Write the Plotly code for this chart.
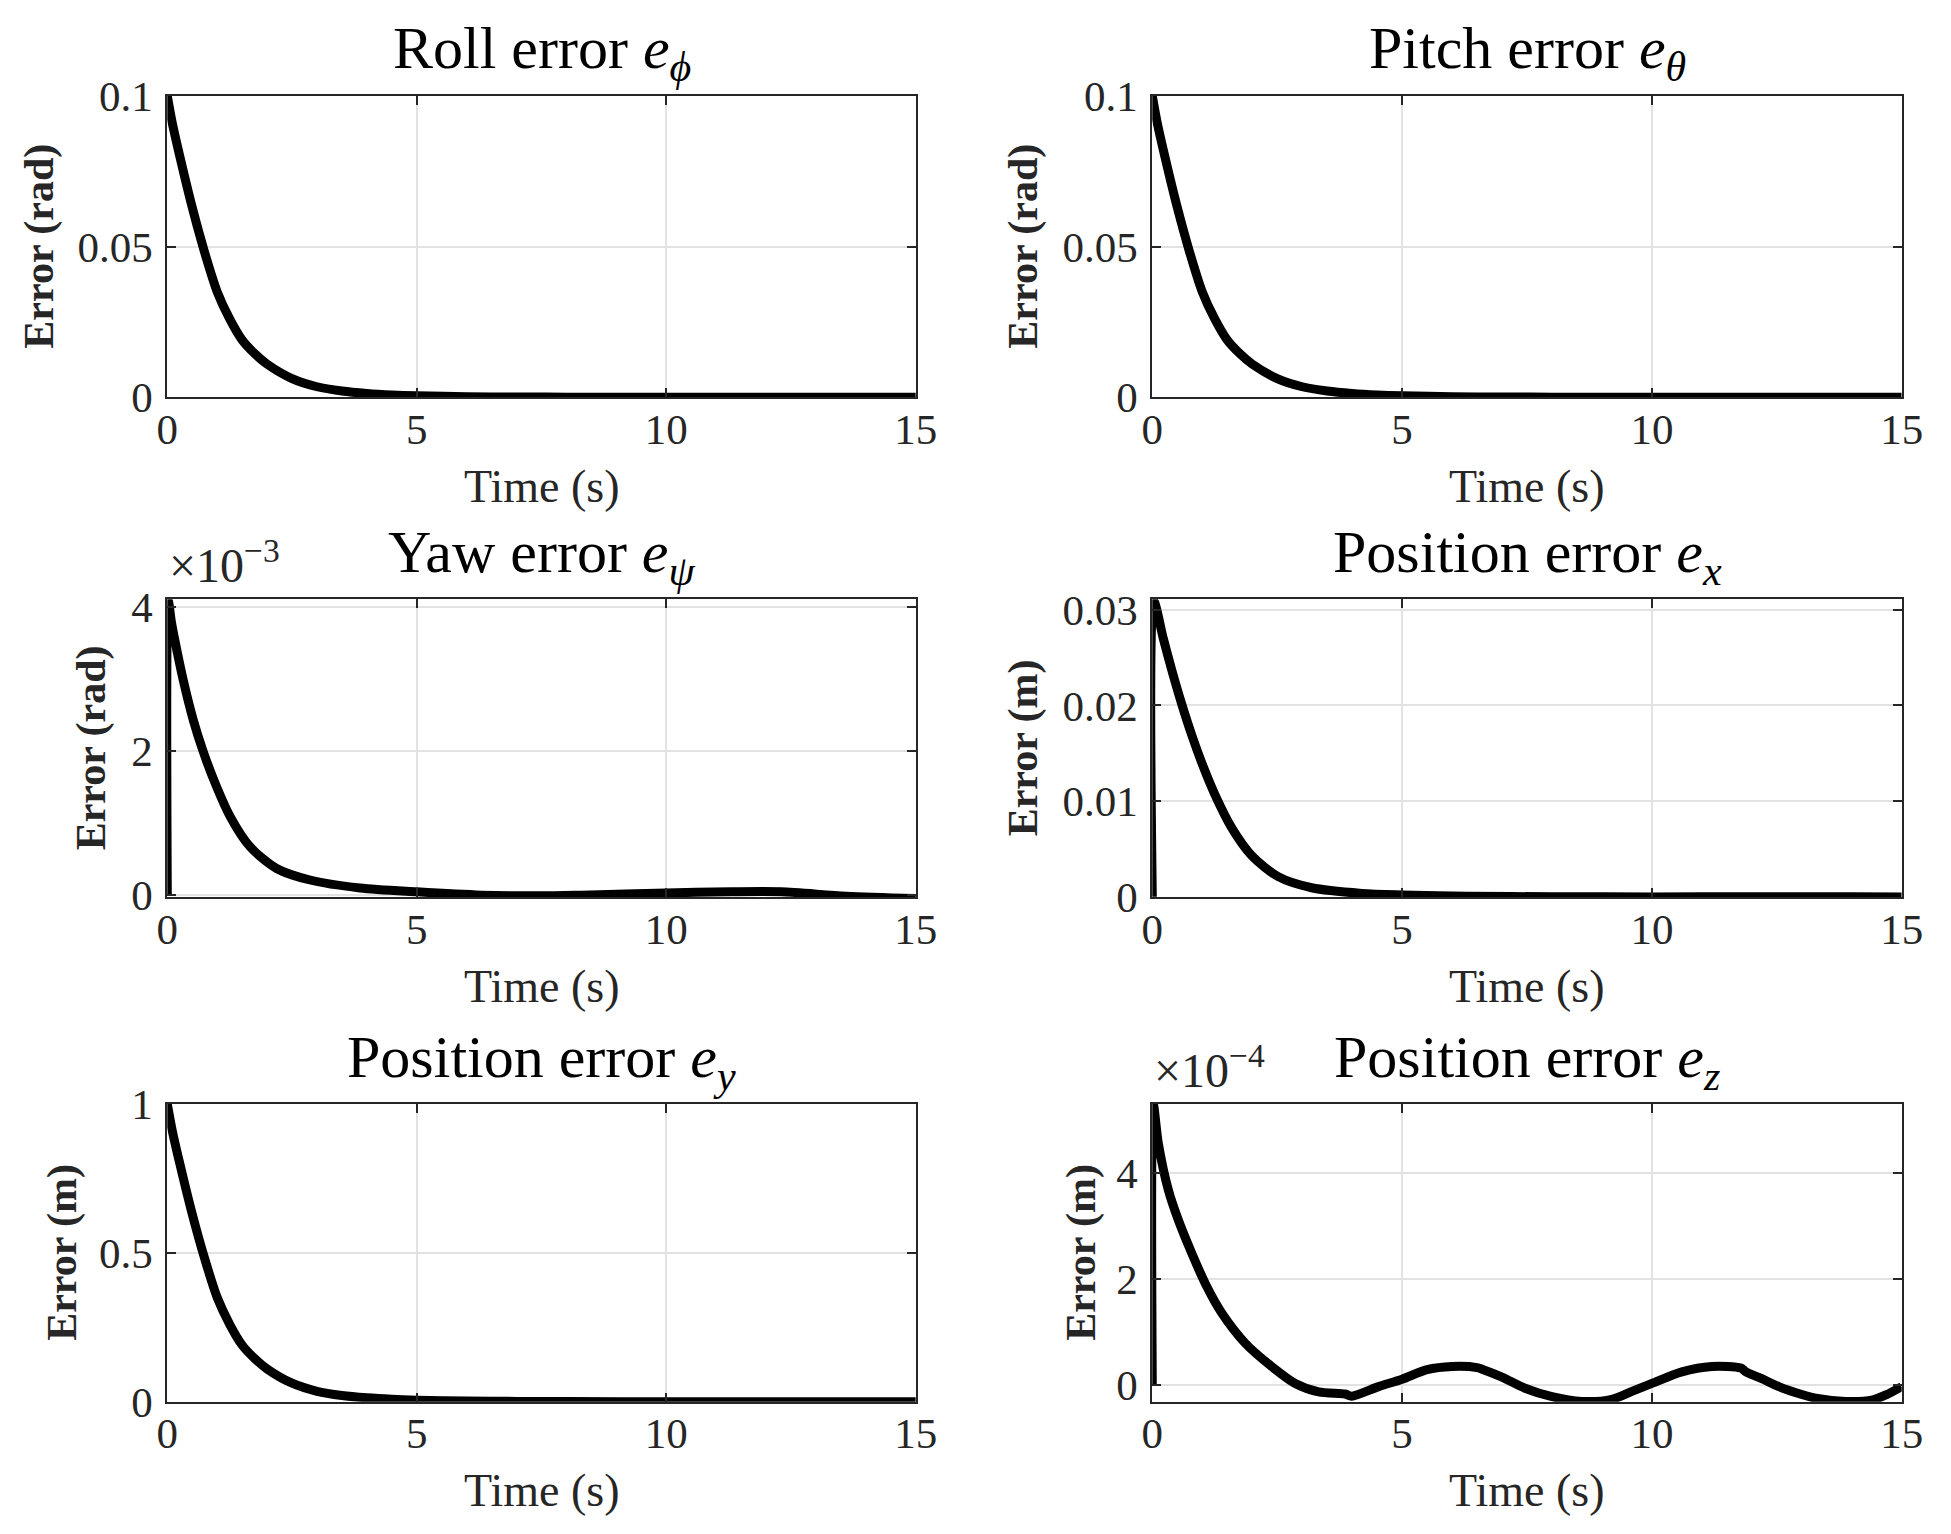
import plotly.graph_objects as go

W, H = 1951, 1534

# ---------------- data ----------------
t_roll = [0, 0.1, 0.25, 0.5, 0.75, 1.0, 1.25, 1.5, 1.75, 2.0, 2.5, 3.0, 3.5, 4.0, 4.5, 5.0, 6.0, 7.0, 8.0, 10.0, 12.0, 15.0]
e_roll = [0.1, 0.091, 0.080, 0.063, 0.048, 0.035, 0.026, 0.019, 0.0145, 0.011, 0.0062, 0.0035, 0.0021, 0.0013,
          0.0008, 0.0005, 0.0002, 0.0001, 0.00005, 0.0, 0.0, 0.0]

t_pitch = [0, 0.1, 0.25, 0.5, 0.75, 1.0, 1.25, 1.5, 1.75, 2.0, 2.5, 3.0, 3.5, 4.0, 4.5, 5.0, 6.0, 7.0, 8.0, 10.0, 12.0, 15.0]
e_pitch = [0.1, 0.091, 0.080, 0.063, 0.048, 0.035, 0.026, 0.019, 0.0145, 0.011, 0.0062, 0.0035, 0.0021, 0.0013,
           0.0008, 0.0005, 0.0002, 0.0001, 0.00005, 0.0, 0.0, 0.0]

t_yaw = [0, 0.02, 0.08, 0.15, 0.32, 0.52, 0.72, 0.96, 1.26, 1.66, 2.19, 2.86, 3.86, 5.0, 6.3, 7.5, 8.3, 10.0,
         11.3, 12.3, 13.6, 15.0]
e_yaw = [0.0, 4.08e-3, 3.80e-3, 3.54e-3, 2.98e-3, 2.43e-3, 1.99e-3, 1.55e-3, 1.09e-3, 0.67e-3, 0.37e-3, 0.21e-3,
         0.10e-3, 0.046e-3, 0.0, -0.01e-3, 0.0, 0.03e-3, 0.046e-3, 0.046e-3, -0.014e-3, -0.046e-3]

t_px = [0, 0.03, 0.22, 0.39, 0.58, 0.79, 1.02, 1.26, 1.59, 1.99, 2.52, 3.19, 4.19, 5.0, 6.3, 8.0, 10.0, 12.0,
        14.0, 15.0]
e_px = [0.0, 0.0309, 0.0270, 0.0237, 0.0203, 0.0169, 0.0136, 0.0106, 0.0072, 0.0043, 0.0021, 0.00094, 0.00035,
        0.00018, 0.00005, 0.0, -0.00002, 0.0, 0.0, -0.00003]

t_py = [0, 0.1, 0.25, 0.5, 0.75, 1.0, 1.25, 1.5, 1.75, 2.0, 2.5, 3.0, 3.5, 4.0, 4.5, 5.0, 6.0, 7.0, 8.0, 10.0, 12.0, 15.0]
e_py = [1.0, 0.91, 0.80, 0.63, 0.48, 0.35, 0.26, 0.19, 0.145, 0.11, 0.062, 0.035, 0.021, 0.013, 0.008, 0.005,
        0.002, 0.001, 0.0005, 0.0, 0.0, 0.0]

t_pz = [0, 0.02, 0.12, 0.32, 0.52, 0.79, 1.09, 1.39, 1.86, 2.39, 2.86, 3.33, 3.86, 3.99, 4.53, 5.0, 5.5, 6.0,
        6.5, 6.6, 7.0, 7.46, 8.0, 8.6, 9.2, 9.6, 10.0, 10.6, 11.2, 11.78, 11.88, 12.2, 12.54, 13.0, 13.28,
        13.88, 14.42, 14.7, 15.0]
e_pz = [0.0, 5.30e-4, 4.57e-4, 3.69e-4, 3.12e-4, 2.49e-4, 1.86e-4, 1.36e-4, 0.79e-4, 0.35e-4, 0.03e-4, -0.13e-4,
        -0.17e-4, -0.21e-4, -0.03e-4, 0.11e-4, 0.29e-4, 0.35e-4, 0.33e-4, 0.30e-4, 0.15e-4, -0.06e-4, -0.22e-4,
        -0.31e-4, -0.27e-4, -0.12e-4, 0.03e-4, 0.25e-4, 0.35e-4, 0.32e-4, 0.25e-4, 0.12e-4, -0.03e-4, -0.18e-4,
        -0.25e-4, -0.31e-4, -0.28e-4, -0.18e-4, -0.03e-4]

x_ticks = [0, 5, 10, 15]
x_ticktext = ["0", "5", "10", "15"]

titles = ["Roll error <i>e</i><sub><i>ϕ</i></sub>",
          "Pitch error <i>e</i><sub><i>θ</i></sub>",
          "Yaw error <i>e</i><sub><i>ψ</i></sub>",
          "Position error <i>e</i><sub><i>x</i></sub>",
          "Position error <i>e</i><sub><i>y</i></sub>",
          "Position error <i>e</i><sub><i>z</i></sub>"]
ylabels = ["Error (rad)", "Error (rad)", "Error (rad)", "Error (m)", "Error (m)", "Error (m)"]
xlabel = "Time (s)"

y_tickvals = [[0, 0.05, 0.1], [0, 0.05, 0.1], [0, 0.002, 0.004], [0, 0.01, 0.02, 0.03], [0, 0.5, 1],
              [0, 2e-4, 4e-4]]
y_ticktext = [["0", "0.05", "0.1"], ["0", "0.05", "0.1"], ["0", "2", "4"], ["0", "0.01", "0.02", "0.03"],
              ["0", "0.5", "1"], ["0", "2", "4"]]
y_ranges = [[0, 0.1], [0, 0.1], [-0.03e-3, 4.103e-3], [-0.00006, 0.0311], [0, 1], [-0.315e-4, 5.31e-4]]
exponents = [None, None, "×10<sup>−3</sup>", None, None, "×10<sup>−4</sup>"]

series_t = [t_roll, t_pitch, t_yaw, t_px, t_py, t_pz]
series_e = [e_roll, e_pitch, e_yaw, e_px, e_py, e_pz]

# ---------------- layout geometry (pixels) ----------------
col_px = [(167.3, 915.8), (1152.3, 1901.7)]
row_px = [(96.0, 397.3), (599.3, 897.3), (1104.0, 1401.7)]
ylabel_cx = [40, 1024, 91, 1023, 63, 1082]


def fx(px):
    return px / W


def fy(py):
    return 1 - py / H


FONT = "Liberation Serif"
TXT = "#262626"

fig = go.Figure()
annotations = []
layout_axes = {}

for i in range(6):
    r, c = divmod(i, 2)
    x0, x1 = col_px[c]
    y0, y1 = row_px[r]
    n = i + 1
    xa = "x" if n == 1 else f"x{n}"
    ya = "y" if n == 1 else f"y{n}"
    fig.add_trace(go.Scatter(x=series_t[i], y=series_e[i], mode="lines",
                             line=dict(color="black", width=9, shape="spline", smoothing=0.8),
                             xaxis=xa, yaxis=ya, showlegend=False, hoverinfo="skip"))
    common = dict(showline=True, linecolor=TXT, linewidth=2, mirror="ticks", ticks="inside",
                  ticklen=9, tickwidth=2, tickcolor=TXT, showgrid=True, gridcolor="#e2e2e2",
                  gridwidth=1.5, zeroline=False, automargin=False,
                  tickfont=dict(family=FONT, size=43, color=TXT))
    layout_axes["xaxis" if n == 1 else f"xaxis{n}"] = dict(
        domain=[fx(x0), fx(x1)], anchor=ya, range=[0, 15], tickmode="array",
        tickvals=x_ticks, ticktext=x_ticktext, ticklabelstandoff=-7, **common)
    layout_axes["yaxis" if n == 1 else f"yaxis{n}"] = dict(
        domain=[fy(y1), fy(y0)], anchor=xa, range=y_ranges[i], tickmode="array",
        tickvals=y_tickvals[i], ticktext=y_ticktext[i], ticklabelstandoff=4, **common)

    cx = (x0 + x1) / 2
    # title
    annotations.append(dict(text=titles[i], x=fx(cx), y=fy(y0 - 43), xref="paper", yref="paper",
                            xanchor="center", yanchor="middle", showarrow=False,
                            font=dict(family=FONT, size=60, color="black")))
    # x label
    annotations.append(dict(text=xlabel, x=fx(cx), y=fy(y1 + 89), xref="paper", yref="paper",
                            xanchor="center", yanchor="middle", showarrow=False,
                            font=dict(family=FONT, size=46, color=TXT)))
    # y label
    annotations.append(dict(text="<b>" + ylabels[i] + "</b>", x=fx(ylabel_cx[i]), y=fy((y0 + y1) / 2),
                            xref="paper", yref="paper", xanchor="center", yanchor="middle",
                            textangle=-90, showarrow=False,
                            font=dict(family=FONT, size=42, color=TXT)))
    if exponents[i]:
        annotations.append(dict(text=exponents[i], x=fx(x0), y=fy(y0 - 5), xref="paper", yref="paper",
                                xanchor="left", yanchor="bottom", showarrow=False,
                                font=dict(family=FONT, size=48, color=TXT)))

fig.update_layout(width=W, height=H, margin=dict(l=0, r=0, t=0, b=0, pad=0, autoexpand=False),
                  paper_bgcolor="white", plot_bgcolor="white",
                  annotations=annotations, **layout_axes)

fig.write_html("out.html")
